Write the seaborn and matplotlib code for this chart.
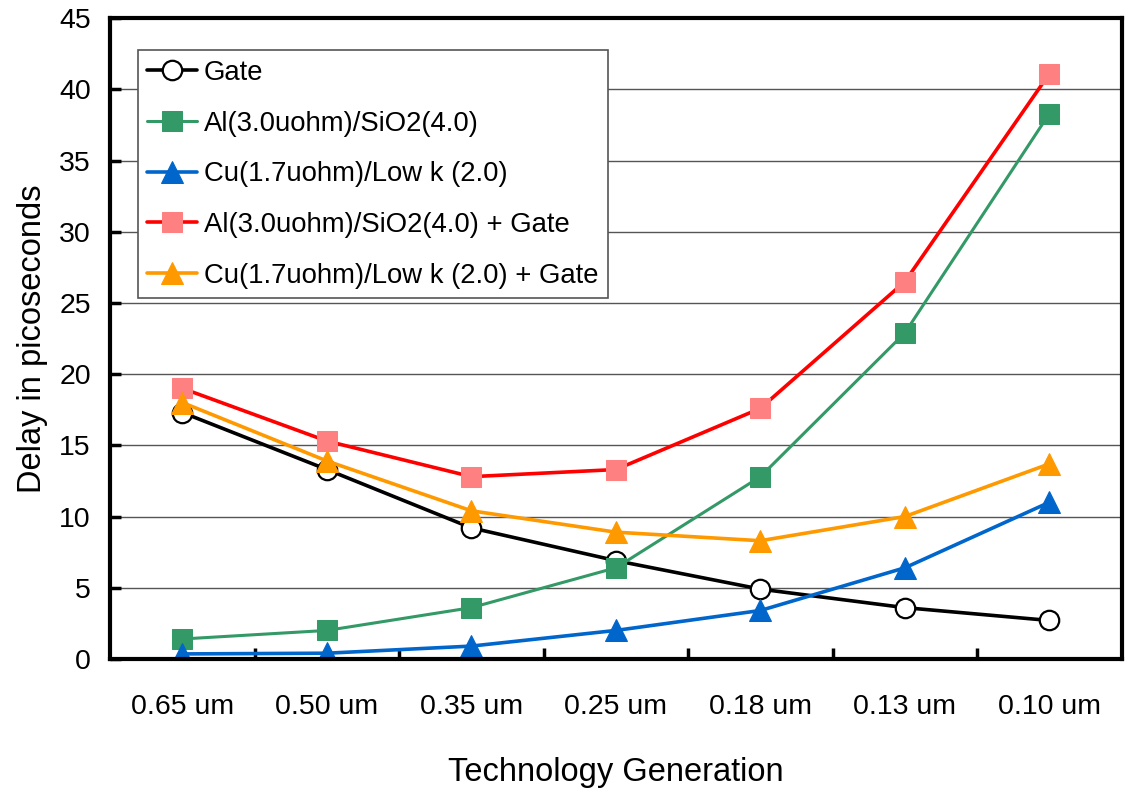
import matplotlib
matplotlib.use("Agg")
import matplotlib.pyplot as plt
from matplotlib.ticker import FixedLocator
import seaborn as sns
import pandas as pd

generations = ["0.65 um", "0.50 um", "0.35 um", "0.25 um", "0.18 um", "0.13 um", "0.10 um"]
gate = [17.3, 13.3, 9.2, 6.9, 4.9, 3.6, 2.7]
al_sio2 = [1.4, 2.0, 3.6, 6.4, 12.8, 22.9, 38.3]
cu_lowk = [0.35, 0.4, 0.9, 2.0, 3.4, 6.4, 11.0]
al_sio2_gate = [19.0, 15.3, 12.8, 13.3, 17.6, 26.5, 41.1]
cu_lowk_gate = [18.0, 13.9, 10.4, 8.9, 8.3, 10.0, 13.7]

series_names = [
    "Gate",
    "Al(3.0uohm)/SiO2(4.0)",
    "Cu(1.7uohm)/Low k (2.0)",
    "Al(3.0uohm)/SiO2(4.0) + Gate",
    "Cu(1.7uohm)/Low k (2.0) + Gate",
]
series_values = [gate, al_sio2, cu_lowk, al_sio2_gate, cu_lowk_gate]

styles = {
    "Gate": dict(color="black", marker="o", markersize=14, markerfacecolor="white",
                 markeredgecolor="black", markeredgewidth=1.6, linewidth=2.6),
    "Al(3.0uohm)/SiO2(4.0)": dict(color="#339966", marker="s", markersize=15,
                                  markerfacecolor="#339966", markeredgecolor="#339966",
                                  linewidth=2.2),
    "Cu(1.7uohm)/Low k (2.0)": dict(color="#0066CC", marker="^", markersize=16,
                                    markerfacecolor="#0066CC", markeredgecolor="#0066CC",
                                    linewidth=2.6),
    "Al(3.0uohm)/SiO2(4.0) + Gate": dict(color="#FF0000", marker="s", markersize=15,
                                         markerfacecolor="#FF8080", markeredgecolor="#FF8080",
                                         linewidth=2.6),
    "Cu(1.7uohm)/Low k (2.0) + Gate": dict(color="#FF9900", marker="^", markersize=16,
                                           markerfacecolor="#FF9900", markeredgecolor="#FF9900",
                                           linewidth=2.6),
}

rows = []
for name, vals in zip(series_names, series_values):
    for i, v in enumerate(vals):
        rows.append({"series": name, "pos": i, "delay": v})
df = pd.DataFrame(rows)

sns.set_theme(style="white")
plt.rcParams["font.family"] = ["Liberation Sans", "DejaVu Sans"]
plt.rcParams["text.color"] = "black"

fig = plt.figure(figsize=(11.25, 7.91), dpi=100)
ax = fig.add_axes([0.098, 0.167, 0.899, 0.810])

for name in series_names:
    sub = df[df["series"] == name]
    sns.lineplot(data=sub, x="pos", y="delay", ax=ax, label=name, **styles[name])

ax.set_xlim(-0.5, 6.5)
ax.set_ylim(0, 45)
ax.set_yticks(range(0, 46, 5))
ax.set_xticks(range(len(generations)))
ax.set_xticklabels(generations)
ax.xaxis.set_minor_locator(FixedLocator([i + 0.5 for i in range(len(generations) - 1)]))

ax.yaxis.grid(True, color="#555555", linewidth=1.0)
ax.xaxis.grid(False)
ax.set_axisbelow(True)

for sp in ax.spines.values():
    sp.set_visible(True)
    sp.set_color("black")
    sp.set_linewidth(3)

ax.tick_params(axis="x", which="major", length=0, pad=25, labelsize=20.5, colors="black")
ax.tick_params(axis="x", which="minor", direction="in", length=8, width=2.5,
               color="black", bottom=True)
ax.tick_params(axis="y", which="major", direction="in", length=8, width=2.5,
               pad=14, labelsize=20.5, colors="black", left=True)

ax.set_xlabel("Technology Generation", fontsize=23.5, labelpad=27, color="black")
ax.set_ylabel("Delay in picoseconds", fontsize=23.5, labelpad=8, color="black")

leg = ax.legend(loc="upper left", bbox_to_anchor=(0.027, 0.95), fontsize=19.8,
                frameon=True, fancybox=False, edgecolor="#555555", framealpha=1,
                borderpad=0.35, labelspacing=0.9, handlelength=1.8,
                handletextpad=0.25, borderaxespad=0, labelcolor="black")
leg.get_frame().set_linewidth(1.2)

fig.savefig("out.png", dpi=100, facecolor="white")
